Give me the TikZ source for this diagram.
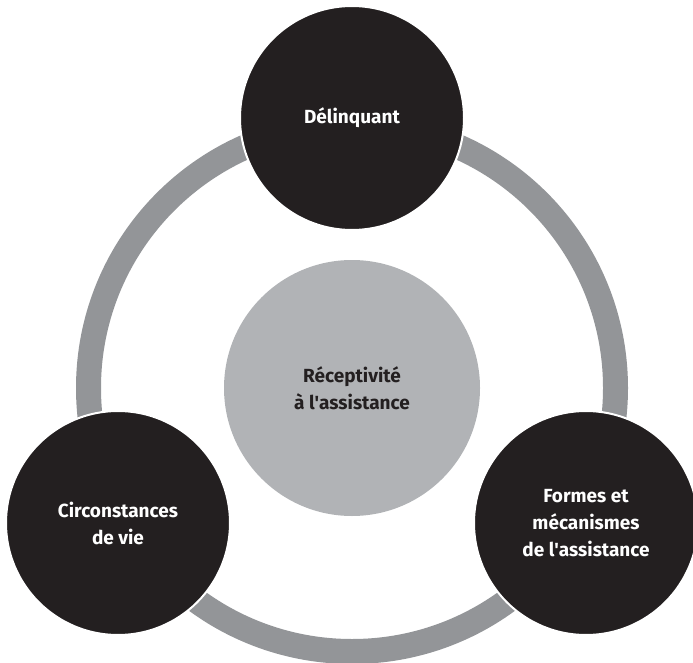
\documentclass[tikz,border=0pt]{standalone}
\usepackage{fontspec}
\setmainfont{Fira Sans}
\definecolor{ringgray}{HTML}{939598}
\definecolor{centergray}{HTML}{B1B3B6}
\definecolor{darkfill}{HTML}{231F20}
\newcommand{\apos}{\textquotesingle}
\begin{document}
\begin{tikzpicture}[x=1pt,y=-1pt,
  outer/.style={circle,fill=darkfill,draw=white,line width=2pt,minimum size=224pt,inner sep=0pt,
    text=white,font=\fontsize{19}{27}\selectfont\bfseries,align=center},
  inner/.style={circle,fill=centergray,minimum size=256pt,inner sep=0pt,
    text=darkfill,font=\fontsize{19}{27}\selectfont\bfseries,align=center}]
\useasboundingbox (0,0) rectangle (693,663);
\coordinate (c) at (352,388);
\draw[ringgray,line width=25pt] (c) circle[radius=263.5pt];
\node[inner] (mid) at (352,388) {Réceptivité\\à l\apos assistance};
\node[outer] (top) at (352,118) {Délinquant};
\node[outer] (bl) at (118,523) {Circonstances\\de vie};
\node[outer] (br) at (586,523) {Formes et\\mécanismes\\de l\apos assistance};
\end{tikzpicture}
\end{document}
